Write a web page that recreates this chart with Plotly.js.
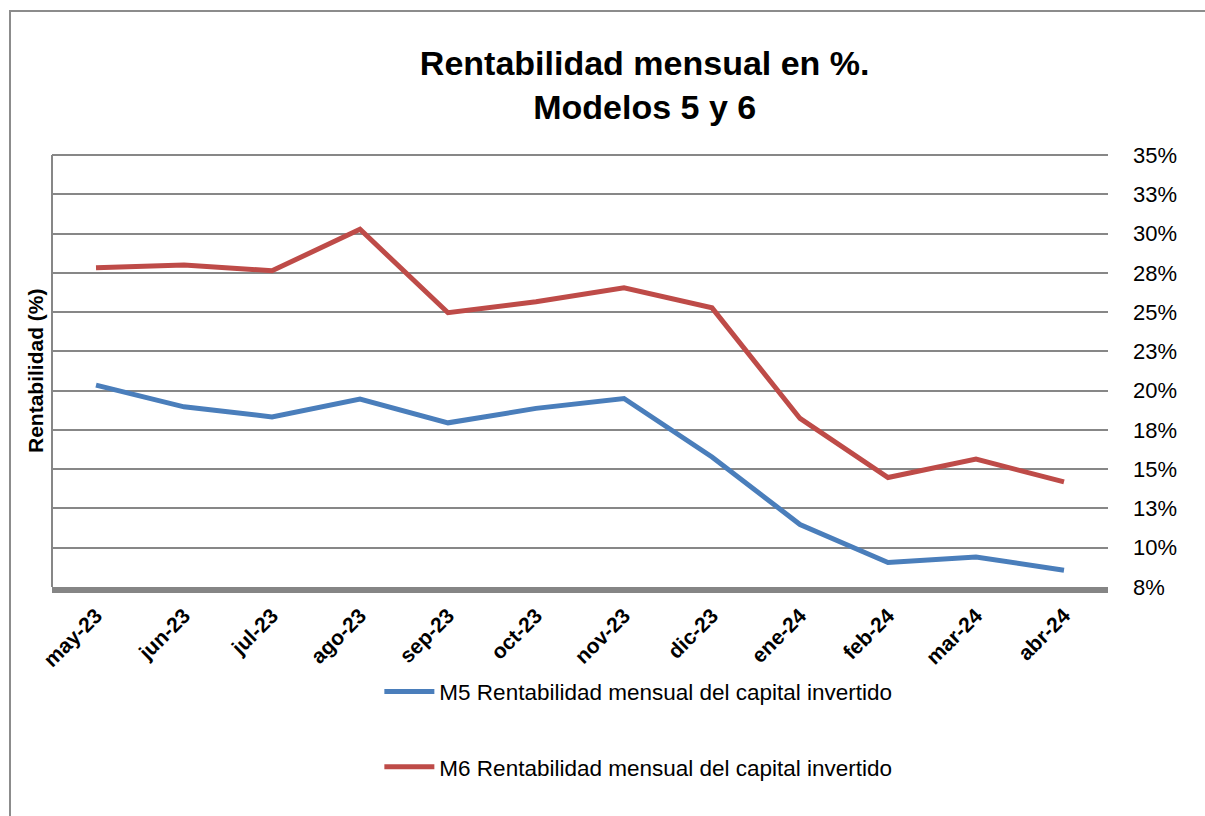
<!DOCTYPE html>
<html>
<head>
<meta charset="utf-8">
<script src="https://cdn.plot.ly/plotly-3.0.1.min.js"></script>
<style>
  body { margin: 0; background: #fff; }
  #frame { position: absolute; left: 9px; top: 10px; width: 1196px; height: 806px;
           border-top: 2px solid #8c8c8c; border-left: 2px solid #8c8c8c; }
  #plot { position: absolute; left: 0; top: 0; width: 1205px; height: 816px; }
</style>
</head>
<body>
<div id="frame"></div>
<div id="plot"></div>
<script>
// months on the x axis
const months = ['may-23', 'jun-23', 'jul-23', 'ago-23', 'sep-23', 'oct-23',
                'nov-23', 'dic-23', 'ene-24', 'feb-24', 'mar-24', 'abr-24']
// monthly return, percent
const m5 = [20.35, 18.97, 18.33, 19.46, 17.95, 18.87, 19.50, 15.78, 11.48, 9.06, 9.41, 8.57]
const m6 = [27.82, 28.00, 27.63, 30.27, 24.96, 25.66, 26.55, 25.27, 18.23, 14.47, 15.64, 14.19]
const m5_name = 'M5 Rentabilidad mensual del capital invertido'
const m6_name = 'M6 Rentabilidad mensual del capital invertido'
// y ticks (excel shows 2.5 steps rounded)
const y_tickvals = [7.5, 10, 12.5, 15, 17.5, 20, 22.5, 25, 27.5, 30, 32.5, 35]
const y_ticktext = ['8%', '10%', '13%', '15%', '18%', '20%', '23%', '25%', '28%', '30%', '33%', '35%']

const font_fam = '"Liberation Sans", Arial, sans-serif'
const grid_col = '#878787'

const data = [
    {
        x: months, y: m5, name: m5_name,
        type: 'scatter', mode: 'lines',
        line: {color: '#4a7ebb', width: 5},
        legend: 'legend',
    },
    {
        x: months, y: m6, name: m6_name,
        type: 'scatter', mode: 'lines',
        line: {color: '#be4b48', width: 5},
        legend: 'legend2',
    },
]

const legend_style = {
    font: {family: font_fam, size: 22.5, color: '#000'},
    bgcolor: 'rgba(0,0,0,0)',
    xanchor: 'left', yanchor: 'middle',
    itemwidth: 50,
}

const layout = {
    width: 1205,
    height: 816,
    margin: {l: 52, r: 97, t: 155, b: 229},
    paper_bgcolor: 'rgba(0,0,0,0)',
    plot_bgcolor: '#fff',
    showlegend: true,
    title: {
        text: '<b>Rentabilidad mensual en %.</b><br><b>Modelos 5 y 6</b>',
        font: {family: font_fam, size: 34, color: '#000'},
        x: 0.535, xanchor: 'center',
        y: 1 - 75 / 816, yref: 'container', yanchor: 'middle',
    },
    xaxis: {
        type: 'category',
        range: [-0.5, 11.5],
        tickangle: -45,
        tickfont: {family: font_fam, size: 21, color: '#000', weight: 'bold'},
        showgrid: false,
        showline: true, linecolor: '#858585', linewidth: 6,
        ticks: '',
        ticklabelstandoff: 2,
        zeroline: false,
        fixedrange: true,
    },
    yaxis: {
        side: 'right',
        range: [7.5, 35],
        tickvals: y_tickvals,
        ticktext: y_ticktext,
        tickfont: {family: font_fam, size: 22, color: '#000'},
        ticklabelstandoff: 24,
        showgrid: true, gridcolor: grid_col, gridwidth: 2,
        showline: false,
        zeroline: false,
        ticks: '',
        fixedrange: true,
        title: {text: ''},
    },
    legend: Object.assign({x: 0.31, y: -0.243}, legend_style),
    legend2: Object.assign({x: 0.31, y: -0.417}, legend_style),
    shapes: [
        // left frame line of the plot area
        {type: 'line', xref: 'paper', yref: 'paper', x0: 0, x1: 0, y0: 0, y1: 1,
         line: {color: grid_col, width: 2}, layer: 'above'},
        // top frame
        {type: 'line', xref: 'paper', yref: 'paper', x0: 0, x1: 1, y0: 1, y1: 1,
         line: {color: grid_col, width: 2}, layer: 'below'},
    ],
    annotations: [
        {
            text: '<b>Rentabilidad (%)</b>',
            xref: 'paper', yref: 'paper', x: -17 / 1056, y: 0.5,
            xanchor: 'center', yanchor: 'middle', textangle: -90,
            showarrow: false,
            font: {family: font_fam, size: 21, color: '#000'},
        },
    ],
}

Plotly.newPlot('plot', data, layout, {displayModeBar: false, staticPlot: true})
</script>
</body>
</html>
